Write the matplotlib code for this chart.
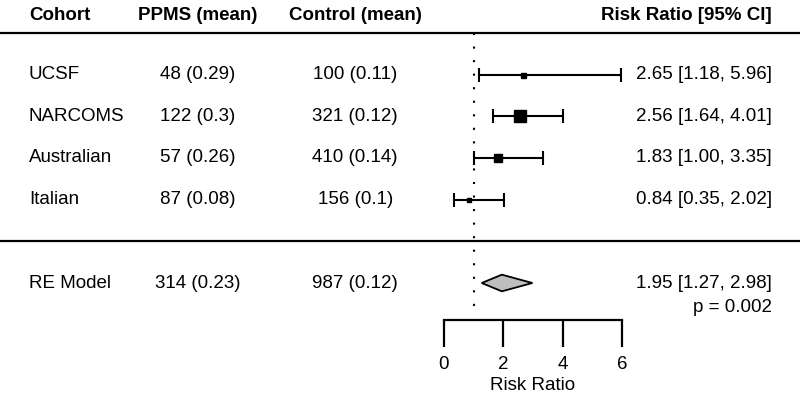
import matplotlib
matplotlib.use("Agg")
import matplotlib.pyplot as plt
from matplotlib.patches import Polygon
import matplotlib.transforms as mtransforms

plt.rcParams["font.family"] = ["Liberation Sans", "DejaVu Sans"]

# study rows (top to bottom)
cohorts = ["UCSF", "NARCOMS", "Australian", "Italian"]
ppms = ["48 (0.29)", "122 (0.3)", "57 (0.26)", "87 (0.08)"]
control = ["100 (0.11)", "321 (0.12)", "410 (0.14)", "156 (0.1)"]
rr = [2.65, 2.56, 1.83, 0.84]
ci_low = [1.18, 1.64, 1.00, 0.35]
ci_high = [5.96, 4.01, 3.35, 2.02]

# pooled random-effects estimate
re_label = "RE Model"
re_ppms = "314 (0.23)"
re_control = "987 (0.12)"
re_rr, re_low, re_high = 1.95, 1.27, 2.98
re_p = "p = 0.002"

headers = ["Cohort", "PPMS (mean)", "Control (mean)", "Risk Ratio [95% CI]"]
xticks = [0, 2, 4, 6]

box_sizes = [3.6, 8.6, 5.8, 2.9]
fs = 13.5

fig = plt.figure(figsize=(8, 4.04), dpi=100)
ax = fig.add_axes([0, 0, 1, 1])
ax.set_xlim(-14.966, 12.0)
ax.set_ylim(-1.904, 7.792)

rows = list(range(len(cohorts) + 2, 2, -1))  # 6, 5, 4, 3
re_row = 1

# horizontal rules
ax.axhline(7, color="black", lw=1.6)
ax.axhline(2, color="black", lw=1.6)

# reference line at RR = 1
ax.plot([1, 1], [7, 0.2], color="black", lw=1.5, ls=(0, (1, 5.5)))

for y, m, lo, hi, s in zip(rows, rr, ci_low, ci_high, box_sizes):
    ax.errorbar(m, y, xerr=[[m - lo], [hi - m]], fmt="none", ecolor="black",
                elinewidth=1.5, capsize=4.7, capthick=1.5)
    ax.plot(m, y, marker="s", ms=s, color="black", mec="black")

diamond = Polygon([[re_low, re_row], [re_rr, re_row + 0.2],
                   [re_high, re_row], [re_rr, re_row - 0.2]],
                  closed=True, facecolor="#bebebe", edgecolor="black", lw=1.3)
ax.add_patch(diamond)

# text columns
tr = mtransforms.blended_transform_factory(fig.transFigure, ax.transData)
col_x = [0.036, 0.2475, 0.444, 0.965]
col_ha = ["left", "center", "center", "right"]
for x, ha, h in zip(col_x, col_ha, headers):
    ax.text(x, 7.43, h, transform=tr, ha=ha, va="center", fontsize=fs,
            fontweight="bold")

for i, y in enumerate(rows):
    vals = [cohorts[i], ppms[i], control[i],
            f"{rr[i]:.2f} [{ci_low[i]:.2f}, {ci_high[i]:.2f}]"]
    for x, ha, v in zip(col_x, col_ha, vals):
        ax.text(x, y, v, transform=tr, ha=ha, va="center", fontsize=fs)

re_vals = [re_label, re_ppms, re_control,
           f"{re_rr:.2f} [{re_low:.2f}, {re_high:.2f}]"]
for x, ha, v in zip(col_x, col_ha, re_vals):
    ax.text(x, re_row, v, transform=tr, ha=ha, va="center", fontsize=fs)
ax.text(col_x[3], 0.4, re_p, transform=tr, ha="right", va="center", fontsize=fs)

# x axis
for side in ["top", "left", "right"]:
    ax.spines[side].set_visible(False)
ax.spines["bottom"].set_position(("data", 0.11))
ax.spines["bottom"].set_bounds(xticks[0], xticks[-1])
ax.spines["bottom"].set_linewidth(1.6)
ax.set_xticks(xticks)
ax.set_xticklabels([str(t) for t in xticks])
ax.tick_params(axis="x", direction="out", length=19.5, width=1.6, pad=6.5,
               labelsize=fs)
ax.set_yticks([])
ax.text(3, -1.45, "Risk Ratio", ha="center", va="center", fontsize=fs)

fig.savefig("out.png", dpi=100)
